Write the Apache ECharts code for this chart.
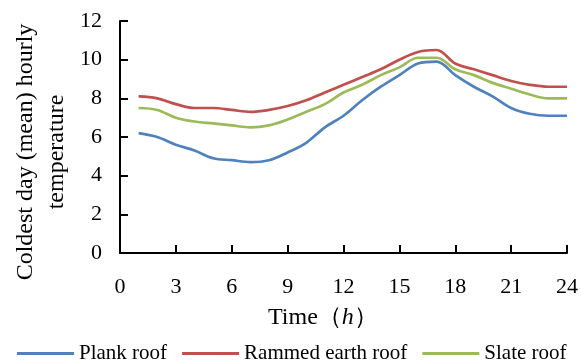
<!DOCTYPE html>
<html lang="en">

<head>
    <meta charset="UTF-8">
    <title>Coldest day hourly temperature</title>
    <script src="https://cdn.jsdelivr.net/npm/echarts@6/dist/echarts.min.js"></script>
    <style>
        body { margin: 0; background: #fff; }
        #main { width: 581px; height: 362px; }
    </style>
</head>

<body>
    <div id="main"></div>

    <script>
        // hours 1..24
        const hours = [1, 2, 3, 4, 5, 6, 7, 8, 9, 10, 11, 12, 13, 14, 15, 16, 17, 18, 19, 20, 21, 22, 23, 24];
        const plankRoof = [6.2, 6.0, 5.6, 5.3, 4.9, 4.8, 4.7, 4.8, 5.2, 5.7, 6.5, 7.1, 7.9, 8.6, 9.2, 9.8, 9.9, 9.2, 8.6, 8.1, 7.5, 7.2, 7.1, 7.1];
        const rammedEarthRoof = [8.1, 8.0, 7.7, 7.5, 7.5, 7.4, 7.3, 7.4, 7.6, 7.9, 8.3, 8.7, 9.1, 9.5, 10.0, 10.4, 10.5, 9.8, 9.5, 9.2, 8.9, 8.7, 8.6, 8.6];
        const slateRoof = [7.5, 7.4, 7.0, 6.8, 6.7, 6.6, 6.5, 6.6, 6.9, 7.3, 7.7, 8.3, 8.7, 9.2, 9.6, 10.1, 10.1, 9.5, 9.2, 8.8, 8.5, 8.2, 8.0, 8.0];

        const seriesNames = ['Plank roof', 'Rammed earth roof', 'Slate roof'];
        const seriesColors = ['#4F81BD', '#C0504D', '#9BBB59'];
        const seriesValues = [plankRoof, rammedEarthRoof, slateRoof];

        const font = 'Liberation Serif';

        const myChart = echarts.init(document.getElementById('main'));

        // tick labels drawn through rich text so the serif font is applied
        const tickLabel = {
            color: '#000',
            formatter: v => '{t|' + v + '}',
            rich: { t: { fontFamily: font, fontSize: 22, color: '#000' } }
        };

        const option = {
            animation: false,
            textStyle: { fontFamily: font },
            grid: { left: 120, right: 14, top: 21, bottom: 109 },
            legend: {
                data: seriesNames,
                icon: 'rect',
                left: 12,
                top: 338,
                itemWidth: 57,
                itemHeight: 3,
                itemGap: 15,
                formatter: name => '{t|' + name + '}',
                textStyle: {
                    fontFamily: font, fontSize: 21, color: '#000',
                    rich: { t: { fontFamily: font, fontSize: 21, color: '#000' } }
                }
            },
            xAxis: {
                type: 'value',
                min: 0,
                max: 24,
                interval: 3,
                axisLine: { lineStyle: { color: '#000', width: 2 } },
                axisTick: { inside: true, length: 8, lineStyle: { color: '#000', width: 2 } },
                axisLabel: Object.assign({ margin: 23 }, tickLabel),
                splitLine: { show: false }
            },
            yAxis: {
                type: 'value',
                min: 0,
                max: 12,
                interval: 2,
                axisLine: { show: true, lineStyle: { color: '#000', width: 2 } },
                axisTick: { show: true, inside: true, length: 8, lineStyle: { color: '#000', width: 2 } },
                axisLabel: Object.assign({ margin: 18 }, tickLabel),
                splitLine: { show: false }
            },
            graphic: [
                {
                    type: 'text',
                    x: 41,
                    y: 152,
                    rotation: Math.PI / 2,
                    style: {
                        text: 'Coldest day (mean) hourly\ntemperature',
                        font: '24px Liberation Serif',
                        lineHeight: 31,
                        fill: '#000',
                        align: 'center',
                        verticalAlign: 'middle'
                    }
                },
                {
                    type: 'text',
                    x: 268,
                    y: 318,
                    style: {
                        text: 'Time（{i|h}）',
                        font: '24px Liberation Serif',
                        fill: '#000',
                        align: 'left',
                        verticalAlign: 'middle',
                        rich: {
                            i: { font: 'italic 24px Liberation Serif', fill: '#000' }
                        }
                    }
                }
            ],
            series: seriesNames.map((name, k) => ({
                name: name,
                type: 'line',
                smooth: 0.35,
                symbol: 'none',
                color: seriesColors[k],
                lineStyle: { width: 2.7, color: seriesColors[k] },
                data: hours.map((h, i) => [h, seriesValues[k][i]])
            }))
        };

        myChart.setOption(option);
    </script>
</body>

</html>
